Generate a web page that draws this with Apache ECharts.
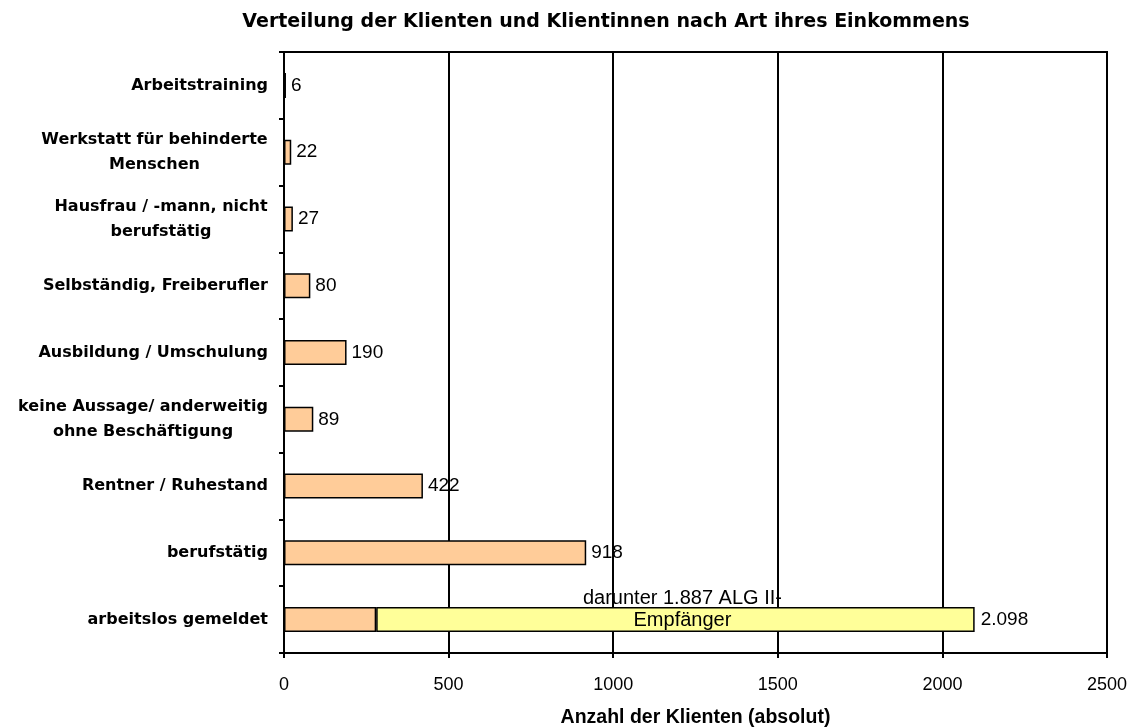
<!DOCTYPE html>
<html>
<head>
<meta charset="utf-8">
<script src="https://cdn.jsdelivr.net/npm/echarts@6/dist/echarts.min.js"></script>
<style>
  html, body { margin: 0; padding: 0; background: #fff; }
  #chart { width: 1136px; height: 727px; }
</style>
</head>
<body>
<div id="chart"></div>
<script>
  // data, top to bottom as in the picture
  var categories = [
    'Arbeitstraining',
    'Werkstatt für behinderte\nMenschen',
    'Hausfrau / -mann, nicht\nberufstätig',
    'Selbständig, Freiberufler',
    'Ausbildung / Umschulung',
    'keine Aussage/ anderweitig\nohne Beschäftigung',
    'Rentner / Ruhestand',
    'berufstätig',
    'arbeitslos gemeldet'
  ];
  var mainValues = [6, 22, 27, 80, 190, 89, 422, 918, 280];
  var algValues = [null, null, null, null, null, null, null, null, 1818];
  var algText = 'darunter 1.887 ALG II-\nEmpfänger';
  var xTicks = [0, 500, 1000, 1500, 2000, 2500];

  var catFont = 'bold 16px "DejaVu Sans"';
  var canvas = document.createElement('canvas').getContext('2d');
  canvas.font = catFont;

  // rich styles so that two-line labels are centred under each other
  var rich = {};
  categories.forEach(function (c, i) {
    var lines = c.split('\n');
    if (lines.length < 2) return;
    var w = 0;
    lines.forEach(function (l) { w = Math.max(w, canvas.measureText(l).width); });
    rich['c' + i] = {
      width: Math.ceil(w), align: 'center',
      fontFamily: 'DejaVu Sans', fontWeight: 'bold', fontSize: 16, lineHeight: 25, color: '#000'
    };
  });

  function deNum(n) {
    return String(n).replace(/\B(?=(\d{3})+(?!\d))/g, '.');
  }

  var totals = mainValues.map(function (v, i) { return v + (algValues[i] || 0); });

  var chart = echarts.init(document.getElementById('chart'), null, { renderer: 'canvas' });

  chart.setOption({
    animation: false,
    backgroundColor: '#fff',
    title: {
      text: 'Verteilung der Klienten und Klientinnen nach Art ihres Einkommens',
      left: 601, top: 8, textAlign: 'center',
      textStyle: { fontFamily: 'DejaVu Sans', fontWeight: 'bold', fontSize: 19, color: '#000' }
    },
    grid: {
      left: 284, right: 29, top: 52, bottom: 74,
      containLabel: false, outerBoundsMode: 'none',
      show: true, borderColor: '#000', borderWidth: 2, backgroundColor: '#fff'
    },
    xAxis: {
      type: 'value', min: xTicks[0], max: xTicks[xTicks.length - 1], interval: 500,
      name: 'Anzahl der Klienten (absolut)', nameLocation: 'middle', nameGap: 55,
      nameTextStyle: { fontFamily: 'Liberation Sans', fontWeight: 'bold', fontSize: 19.5, color: '#000' },
      axisLine: { show: true, lineStyle: { color: '#000', width: 2 } },
      axisTick: { show: true, length: 5, lineStyle: { color: '#000', width: 2 } },
      axisLabel: {
        margin: 23, fontFamily: 'Liberation Sans', fontSize: 18, color: '#000',
        formatter: function (v) { return String(v); }
      },
      splitLine: { show: true, lineStyle: { color: '#000', width: 2 } }
    },
    yAxis: {
      type: 'category', data: categories, inverse: true,
      axisLine: { show: true, lineStyle: { color: '#000', width: 2 } },
      axisTick: { show: true, length: 5, lineStyle: { color: '#000', width: 2 } },
      axisLabel: {
        margin: 16, fontFamily: 'DejaVu Sans', fontWeight: 'bold', fontSize: 16,
        color: '#000', lineHeight: 25, rich: rich,
        formatter: function (v, i) {
          var lines = v.split('\n');
          if (lines.length < 2) return v;
          return lines.map(function (l) { return '{c' + i + '|' + l + '}'; }).join('\n');
        }
      },
      splitLine: { show: false }
    },
    series: [
      {
        name: 'gesamt', type: 'bar', stack: 'a', barWidth: 25,
        data: mainValues,
        itemStyle: { color: '#FFCC99', borderColor: '#000', borderWidth: 1.5 },
        label: {
          show: true, position: 'right', distance: 5,
          fontFamily: 'Liberation Sans', fontSize: 19, color: '#000',
          formatter: function (p) { return algValues[p.dataIndex] != null ? '' : deNum(p.value); }
        }
      },
      {
        name: 'ALG II', type: 'bar', stack: 'a', barWidth: 25,
        data: algValues.map(function (v) { return v == null ? '-' : v; }),
        itemStyle: { color: '#FFFF99', borderColor: '#000', borderWidth: 1.5 },
        label: {
          show: true, position: 'inside', offset: [7, -10],
          fontFamily: 'Liberation Sans', fontSize: 20, lineHeight: 22, color: '#000',
          formatter: function () { return algText; }
        }
      },
      {
        name: 'summe', type: 'bar', stack: 'a', barWidth: 25,
        data: algValues.map(function (v) { return v == null ? '-' : 0; }),
        itemStyle: { color: 'rgba(0,0,0,0)', borderWidth: 0 },
        label: {
          show: true, position: 'right', distance: 6,
          fontFamily: 'Liberation Sans', fontSize: 19, color: '#000',
          formatter: function (p) { return deNum(totals[p.dataIndex]); }
        }
      }
    ]
  });
</script>
</body>
</html>
